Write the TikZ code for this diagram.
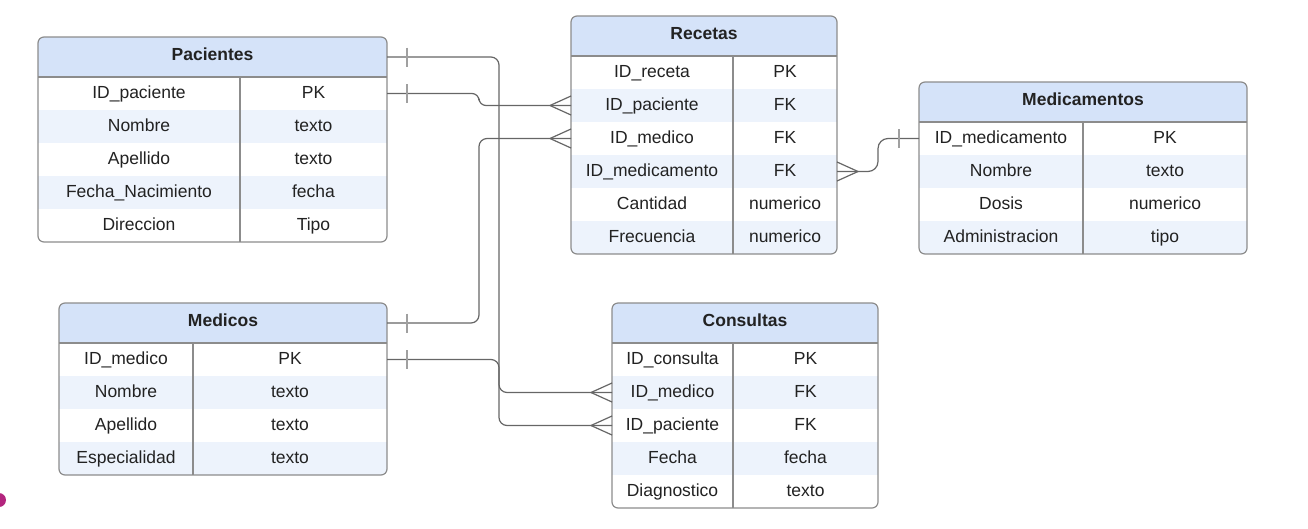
\documentclass[tikz,border=0pt]{standalone}
\usepackage{fontspec}
\setmainfont{Liberation Sans}
\usepackage{tikz}
\usepackage{xcolor}
\definecolor{headblue}{HTML}{D5E3F9}
\definecolor{rowblue}{HTML}{EDF3FC}
\definecolor{tabgray}{HTML}{8C8C8C}
\definecolor{relgray}{HTML}{666666}
\definecolor{bargray}{HTML}{A0A0A0}
\definecolor{inkgray}{HTML}{222222}
\definecolor{dotmag}{HTML}{B3257E}
\tikzset{
	tabline/.style={draw=tabgray, line width=1.2pt},
	relline/.style={draw=relgray, line width=1.2pt},
	headbox/.style={inner sep=0pt, outer sep=0pt, minimum height=40pt,
		text height=12pt, text depth=5pt,
		text=inkgray, font=\fontsize{17.5}{20}\selectfont\bfseries},
	rowbox/.style={inner sep=0pt, outer sep=0pt, minimum height=33pt},
	celltext/.style={inner sep=0pt, text height=12pt, text depth=3pt,
		text=inkgray, font=\fontsize{17.5}{20}\selectfont},
	crowfoot/.pic={\draw[relline] (-21,0) -- (0,-9.5) (-21,0) -- (0,9.5);},
	onebar/.pic={\draw[draw=bargray, line width=1.2pt] (20,-9.5) -- (20,9.5);}
}

% #1 name, #2 left, #3 top, #4 width, #5 first column, #6 title, #7 rows, #8 number of rows
\newcommand{\ertable}[8]{%
	\begin{scope}
		\clip[rounded corners=6pt] (#2,#3) rectangle ++(#4,40+33*#8);
		\fill[white] (#2,#3) rectangle ++(#4,40+33*#8);
		\node[headbox, minimum width=#4, fill=headblue] (#1) at (#2+#4/2,#3+20) {#6};
		\foreach \l/\r [count=\i] in {#7} {
			\ifodd\i \def\rowcol{white}\else \def\rowcol{rowblue}\fi
			\node[rowbox, minimum width=#4, fill=\rowcol] (#1-\i) at (#2+#4/2,#3+23.5+33*\i) {};
			\node[celltext] (#1-\i-l) at (#2+#5/2,#3+23.5+33*\i) {\l};
			\node[celltext] (#1-\i-r) at (#2+#5/2+#4/2,#3+23.5+33*\i) {\r};
		}
	\end{scope}
	\draw[tabline] (#2,#3+40) -- ++(#4,0);
	\draw[tabline] (#2+#5,#3+40) -- ++(0,33*#8);
	\draw[tabline, rounded corners=6pt] (#2,#3) rectangle ++(#4,40+33*#8);
}

\begin{document}
\begin{tikzpicture}[x=1pt,y=-1pt]
	\useasboundingbox (0,0) rectangle (1308,528);
	\fill[dotmag] (-1,500) circle (7);

	% tables
	\ertable{pac}{38}{37}{349}{202}{Pacientes}{ID\_paciente/PK, Nombre/texto, Apellido/texto, Fecha\_Nacimiento/fecha, Direccion/Tipo}{5}
	\ertable{rec}{571}{16}{266}{162}{Recetas}{ID\_receta/PK, ID\_paciente/FK, ID\_medico/FK, ID\_medicamento/FK, Cantidad/numerico, Frecuencia/numerico}{6}
	\ertable{mdc}{919}{82}{328}{164}{Medicamentos}{ID\_medicamento/PK, Nombre/texto, Dosis/numerico, Administracion/tipo}{4}
	\ertable{med}{59}{303}{328}{134}{Medicos}{ID\_medico/PK, Nombre/texto, Apellido/texto, Especialidad/texto}{4}
	\ertable{con}{612}{303}{266}{121}{Consultas}{ID\_consulta/PK, ID\_medico/FK, ID\_paciente/FK, Fecha/fecha, Diagnostico/texto}{5}

	% relations
	\coordinate (busL) at (479,0);
	\coordinate (busR) at (499,0);
	\coordinate (busM) at (878,0);
	\draw[relline, rounded corners=8pt] (pac.east) -| (busR |- con-3.west) -- (con-3.west);
	\draw[relline, rounded corners=7pt] (pac-1.east) -| (busL |- rec-2.west) -- (rec-2.west);
	\draw[relline, rounded corners=8pt] (med.east) -| (busL |- rec-3.west) -- (rec-3.west);
	\draw[relline, rounded corners=8pt] (med-1.east) -| (busR |- con-2.west) -- (con-2.west);
	\draw[relline, rounded corners=10pt] (rec-4.east) -| (busM |- mdc-1.west) -- (mdc-1.west);

	\pic at (pac.east) {onebar};
	\pic at (pac-1.east) {onebar};
	\pic at (med.east) {onebar};
	\pic at (med-1.east) {onebar};
	\pic[xscale=-1] at (mdc-1.west) {onebar};
	\pic at (rec-2.west) {crowfoot};
	\pic at (rec-3.west) {crowfoot};
	\pic at (con-2.west) {crowfoot};
	\pic at (con-3.west) {crowfoot};
	\pic[xscale=-1] at (rec-4.east) {crowfoot};
\end{tikzpicture}
\end{document}
